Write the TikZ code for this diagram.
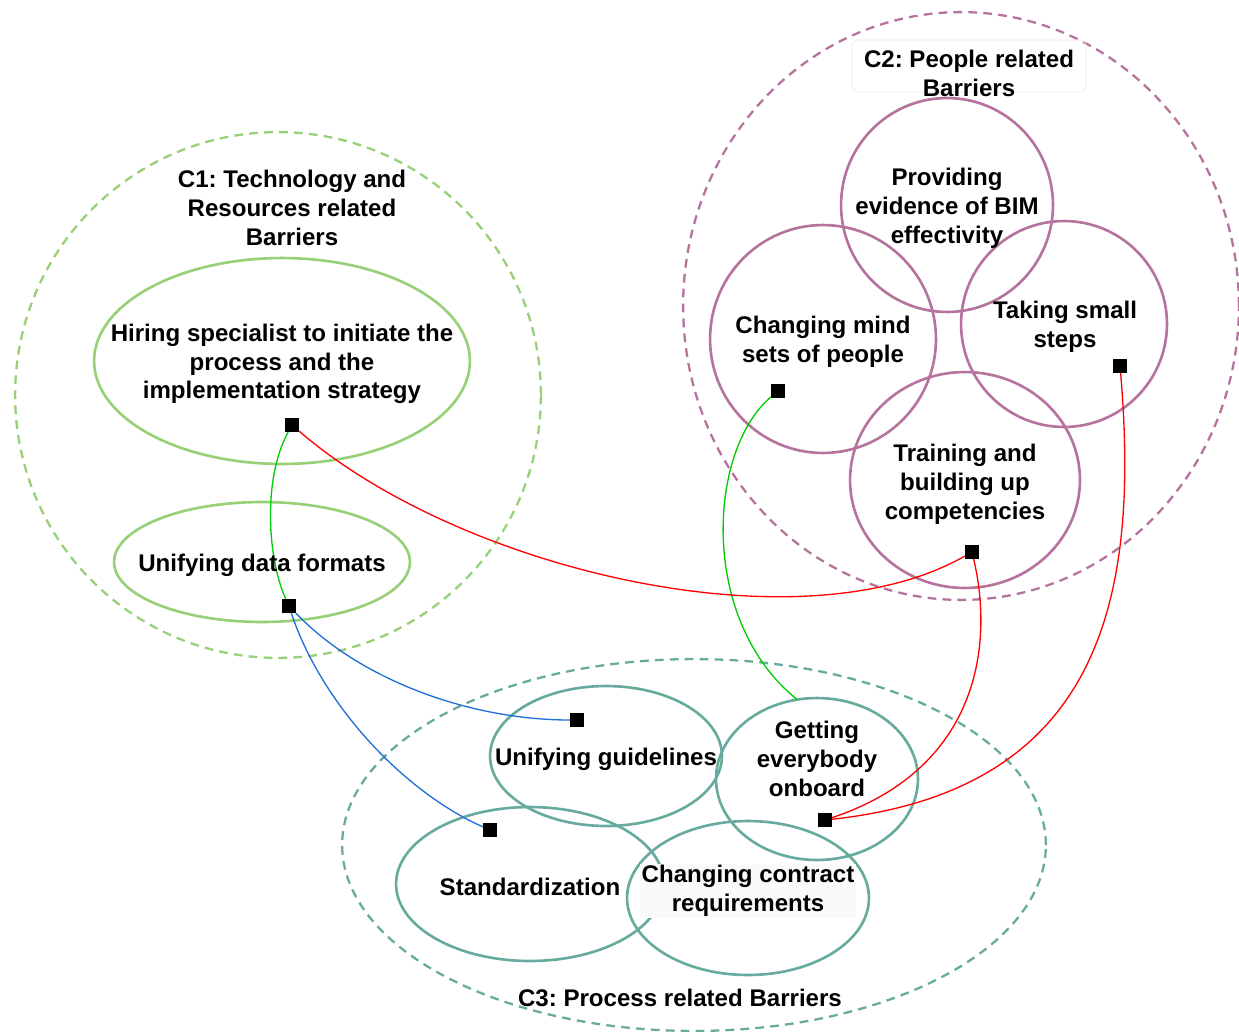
\documentclass[tikz,border=0pt]{standalone}
\usepackage{fontspec}
\setmainfont{Liberation Sans}
\usetikzlibrary{shapes.geometric}
\frenchspacing

\definecolor{grn}{HTML}{97D077}
\definecolor{plum}{HTML}{B5739D}
\definecolor{teal}{HTML}{67AB9F}
\definecolor{pinkbox}{HTML}{F8E2EE}
\definecolor{wgreen}{HTML}{00CC00}
\definecolor{wred}{HTML}{FF0000}
\definecolor{wblue}{HTML}{1F6FD6}

\tikzset{
  bub/.style 2 args={ellipse, minimum width=#1*0.04cm, minimum height=#2*0.04cm,
    inner sep=0pt, outer sep=0pt, line width=1.5pt},
  grp/.style={dash pattern=on 5pt off 3.5pt, line width=1.3pt},
  sq/.style={fill=black, minimum size=0.27cm, inner sep=0pt},
  lbl/.style={font=\bfseries\fontsize{13.7}{16.4}\selectfont, align=center, inner sep=0pt},
  wire/.style={line width=0.75pt}
}

\begin{document}
\begin{tikzpicture}[x=0.02cm,y=-0.02cm]
	%\draw[help lines] (0,0) grid[step=100] (1239,1031);
	\useasboundingbox (0,0) rectangle (1239,1031);
	% groups
	\node[bub={263}{263}, grp, draw=grn] (c1) at (278,395) {};
	\node[bub={278}{294}, grp, draw=plum] (c2) at (961,306) {};
	\node[bub={352}{186}, grp, draw=teal] (c3) at (694,845) {};
	% barriers
	\node[bub={188}{103}, draw=grn] (hire) at (282,361) {};
	\node[bub={148}{60}, draw=grn] (data) at (262,562) {};
	\node[bub={106}{107}, draw=plum] (prov) at (947,205) {};
	\node[bub={113}{114}, draw=plum] (mind) at (823,339) {};
	\node[bub={103}{103}, draw=plum] (small) at (1064,324) {};
	\node[bub={115}{108}, draw=plum] (train) at (965,480) {};
	\node[bub={116}{70}, draw=teal] (guide) at (606,756) {};
	\node[bub={101}{81}, draw=teal] (board) at (817,779) {};
	\node[bub={134}{77}, draw=teal] (stand) at (530,884) {};
	\node[bub={121}{77}, draw=teal] (contr) at (748,898) {};
	% squares
	\node[sq] (hireS) at (292,425) {};
	\node[sq] (dataS) at (289,606) {};
	\node[sq] (mindS) at (778,391) {};
	\node[sq] (smallS) at (1120,366) {};
	\node[sq] (trainS) at (972,552) {};
	\node[sq] (guideS) at (577,720) {};
	\node[sq] (standS) at (490,830) {};
	\node[sq] (boardS) at (825,820) {};
	% links
	\draw[wire, wgreen] (hireS) .. controls (262,480) and (268,560) .. (dataS);
	\draw[wire, wgreen] (mindS) .. controls (708,450) and (698,620) .. (board.104);
	\draw[wire, wred] (hireS) .. controls (460,570) and (800,650) .. (trainS);
	\draw[wire, wred] (trainS) .. controls (995,650) and (975,770) .. (boardS);
	\draw[wire, wred] (smallS) .. controls (1140,600) and (1100,790) .. (boardS);
	\draw[wire, wblue] (dataS) .. controls (360,680) and (470,720) .. (guideS);
	\draw[wire, wblue] (dataS) .. controls (320,700) and (400,790) .. (standS);
	% texts
	\node[lbl] (c1T) at (292,208) {C1: Technology and\\Resources related\\Barriers};
	\node[draw=pinkbox, rounded corners=3pt, line width=0.4pt, minimum width=234*0.02cm,
	  minimum height=52*0.02cm] (c2B) at (969,66) {};
	\node[lbl] (c2T) at (969,73) {C2: People related\\Barriers};
	\node[lbl] (c3T) at (680,998) {C3: Process related Barriers};
	\node[lbl] (hireT) at (282,364) {Hiring specialist to initiate the\\process and the\\implementation strategy};
	\node[lbl] (dataT) at (262,565) {Unifying data formats};
	\node[lbl] (provT) at (947,208) {Providing\\evidence of BIM\\effectivity};
	\node[lbl] (mindT) at (823,342) {Changing mind\\sets of people};
	\node[lbl] (smallT) at (1065,327) {Taking small\\steps};
	\node[lbl] (trainT) at (965,484) {Training and\\building up\\competencies};
	\node[lbl] (guideT) at (606,759) {Unifying guidelines};
	\node[lbl] (boardT) at (817,759) {Getting\\everybody\\onboard};
	\node[lbl] (standT) at (530,887) {Standardization};
	\node[lbl, fill=black!2, inner sep=1pt] (contrT) at (748,891) {Changing contract\\requirements};
\end{tikzpicture}
\end{document}
